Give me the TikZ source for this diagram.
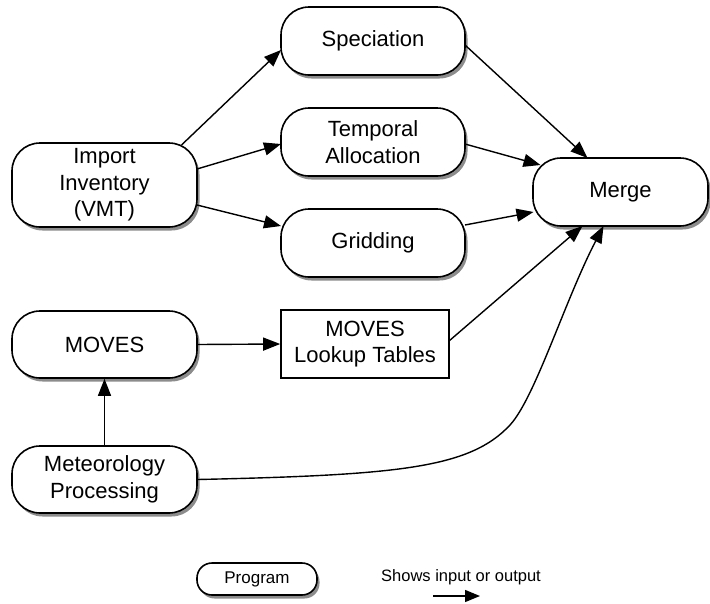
\documentclass[tikz,border=0pt]{standalone}
\usepackage{fontspec}
\setmainfont{Liberation Sans}
\usetikzlibrary{arrows.meta,shadows,calc}
\begin{document}
\begin{tikzpicture}[x=1pt,y=-1pt,
  shad/.style={drop shadow={shadow xshift=2.5pt, shadow yshift=-3.5pt, opacity=0.45, fill=black}},
  progbox/.style={draw=black, line width=1.6pt, fill=white, rounded corners=28pt,
    align=center, inner sep=0pt, font=\fontsize{22}{26.5}\selectfont, shad},
  databox/.style={draw=black, line width=1.6pt, fill=white, align=center, inner sep=0pt,
    font=\fontsize{22}{26.5}\selectfont},
  conn/.style={line width=1.4pt, -{Triangle[length=17pt,width=13pt]}}
]
\useasboundingbox (0,0) rectangle (710,603);

\node[progbox, minimum width=185pt, minimum height=84pt] (imp) at (104.5,185) {Import\\Inventory\\(VMT)};
\node[progbox, minimum width=184pt, minimum height=68pt] (spec) at (373,41) {Speciation};
\node[progbox, minimum width=184pt, minimum height=68pt] (temp) at (373,142) {Temporal\\Allocation};
\node[progbox, minimum width=184pt, minimum height=68pt] (grid) at (373,243) {Gridding};
\node[progbox, minimum width=175pt, minimum height=68pt] (merge) at (620.5,192) {Merge};
\node[progbox, minimum width=185pt, minimum height=67pt] (moves) at (104.5,344.5) {MOVES};
\node[databox, minimum width=168pt, minimum height=68pt] (lookup) at (365,344) {MOVES\\Lookup Tables};
\node[progbox, minimum width=185pt, minimum height=67pt] (met) at (104.5,479.5) {Meteorology\\Processing};

% legend
\node[progbox, rounded corners=15pt, minimum width=120pt, minimum height=32pt,
  font=\fontsize{17}{20}\selectfont] (prog) at (257,579) {Program};
\node[font=\fontsize{16.5}{20}\selectfont, inner sep=0pt] (legtext) at (461,577) {Shows input or output};
\coordinate (la) at (433,596);
\coordinate (lb) at (480,596);
\draw[line width=1.4pt, -{Triangle[length=15pt,width=12pt]}] (la) -- (lb);

% connectors
\draw[conn] ($(imp)+(77,-40)$) -- ($(spec)+(-92,9)$);
\draw[conn] ($(imp)+(92.5,-16)$) -- ($(temp)+(-92,2)$);
\draw[conn] ($(imp)+(92.5,20)$) -- ($(grid)+(-92,-17)$);
\draw[conn] ($(spec)+(92,4)$) -- ($(merge)+(-33,-34)$);
\draw[conn] ($(temp)+(92,2)$) -- ($(merge)+(-80,-27)$);
\draw[conn] ($(grid)+(92,-18)$) -- ($(merge)+(-87,20)$);
\draw[conn] ($(lookup)+(84,-3)$) -- ($(merge)+(-38,34)$);
\draw[conn] (met.east) .. controls (400,475) and (470,468) .. (510,425)
  .. controls (535,398) and (565,300) .. ($(merge)+(-17,34)$);
\draw[conn] (met.north) -- (moves.south);
\draw[conn] (moves.east) -- (lookup.west);
\end{tikzpicture}
\end{document}
